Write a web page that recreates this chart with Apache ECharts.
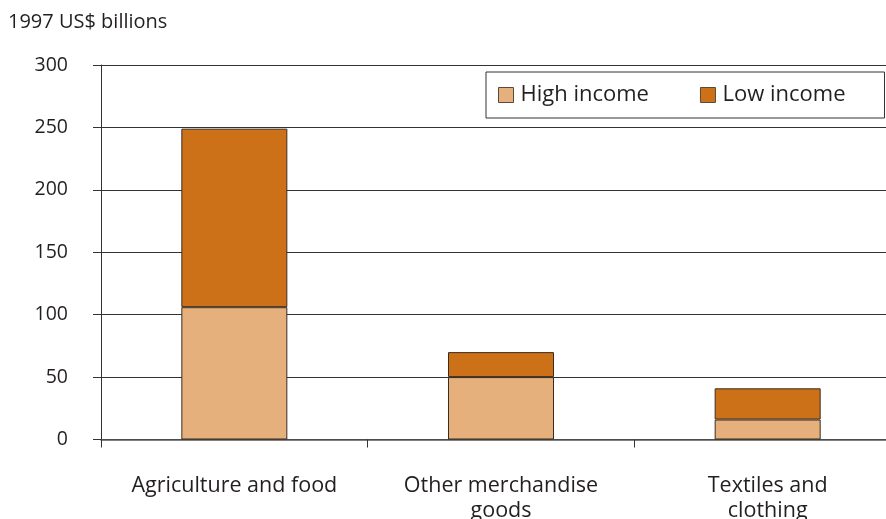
<!DOCTYPE html>
<html><head><meta charset="utf-8">
<script src="https://cdn.jsdelivr.net/npm/echarts@6/dist/echarts.min.js"></script>
<style>html,body{margin:0;padding:0;background:#fff}#c{width:886px;height:519px}</style>
</head><body><div id="c"></div>
<script>
var categories = ['Agriculture and food', 'Other merchandise\ngoods', 'Textiles and\nclothing'];
var highIncome = [106, 50, 16];
var lowIncome = [143, 20, 25];
var yTicks = [0, 50, 100, 150, 200, 250, 300];
var unitLabel = '1997 US$ billions';

var FONT = '"Open Sans", "Noto Sans", sans-serif';
var chart = echarts.init(document.getElementById('c'), null, {renderer: 'canvas'});
chart.setOption({
  animation: false,
  backgroundColor: '#fff',
  title: {
    text: unitLabel, left: 3, top: 7,
    textStyle: {fontFamily: FONT, fontSize: 20, fontWeight: 'normal', color: '#231f20'}
  },
  legend: {
    left: 486, top: 72,
    padding: [12, 39, 12, 12],
    borderColor: '#333', borderWidth: 1,
    itemWidth: 15, itemHeight: 15, itemGap: 51,
    textStyle: {fontFamily: FONT, fontSize: 22, color: '#231f20', padding: [0,0,0,2]},
    data: [
      {name: 'High income', icon: 'rect', itemStyle: {borderColor: '#5a4a3a', borderWidth: 1}},
      {name: 'Low income', icon: 'rect', itemStyle: {borderColor: '#5a4a3a', borderWidth: 1}}
    ]
  },
  grid: {left: 101, top: 65, right: -15, bottom: 79.5, containLabel: false, outerBoundsMode: 'none'},
  xAxis: {
    type: 'category', data: categories,
    axisLine: {lineStyle: {color: '#555', width: 1.5}},
    axisTick: {show: true, length: 8, interval: 0, lineStyle: {color: '#333'}},
    axisLabel: {fontFamily: FONT, fontSize: 21.5, color: '#231f20', margin: 34, lineHeight: 25, interval: 0, hideOverlap: false}
  },
  yAxis: {
    type: 'value', min: yTicks[0], max: yTicks[yTicks.length - 1], interval: 50,
    axisLine: {show: true, lineStyle: {color: '#333'}},
    axisTick: {show: true, length: 8, lineStyle: {color: '#333'}},
    splitLine: {lineStyle: {color: '#333', width: 1}},
    axisLabel: {fontFamily: FONT, fontSize: 19.5, color: '#231f20', margin: 33}
  },
  series: [
    {name: 'High income', type: 'bar', stack: 's', data: highIncome, barWidth: 106,
     itemStyle: {color: '#E6B07C', borderColor: '#3b2c1f', borderWidth: 1}},
    {name: 'Low income', type: 'bar', stack: 's', data: lowIncome, barWidth: 106,
     itemStyle: {color: '#CD7118', borderColor: '#3b2c1f', borderWidth: 1}}
  ]
});
</script></body></html>
